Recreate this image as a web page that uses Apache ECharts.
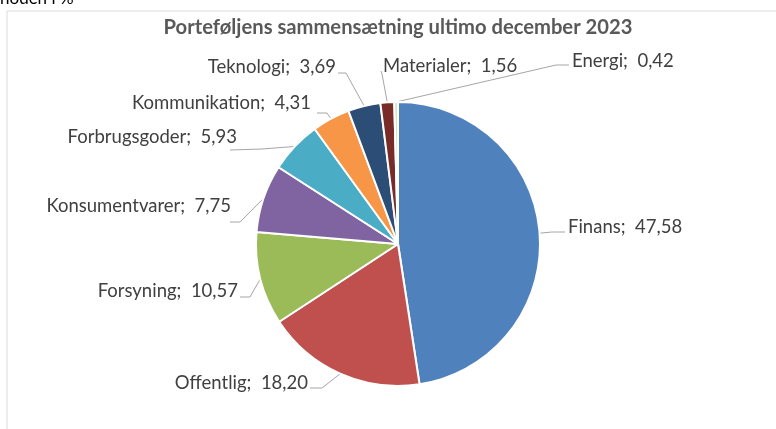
<!DOCTYPE html>
<html>
<head>
<meta charset="utf-8">
<script src="https://cdn.jsdelivr.net/npm/echarts@6/dist/echarts.min.js"></script>
<style>
  html, body { margin: 0; padding: 0; background: #fff; }
  #chart { width: 776px; height: 429px; }
</style>
</head>
<body>
<div id="chart"></div>
<script>
// Sector weights of the portfolio, in percent
const sectors = ['Finans', 'Offentlig', 'Forsyning', 'Konsumentvarer', 'Forbrugsgoder',
                 'Kommunikation', 'Teknologi', 'Materialer', 'Energi'];
const weights = [47.58, 18.20, 10.57, 7.75, 5.93, 4.31, 3.69, 1.56, 0.42];
const sliceColors = ['#4F81BD', '#C0504D', '#9BBB59', '#8064A2', '#4BACC6',
                     '#F79646', '#2C4D75', '#772C2A', '#D7E4BD'];

// Where each label sits: text anchor x, text middle y, alignment,
// plus the elbow and end of its leader line
const labelSpots = [
  { x: 568, y: 227, align: 'left',  elbow: [552, 232], end: [565, 232] },
  { x: 308, y: 383, align: 'right', elbow: [322, 388], end: [310, 388] },
  { x: 238, y: 291, align: 'right', elbow: [250, 297], end: [240, 297] },
  { x: 231, y: 206, align: 'right', elbow: [240, 222], end: [230, 222] },
  { x: 237, y: 137, align: 'right', elbow: [262, 149], end: [230, 150] },
  { x: 311, y: 103, align: 'right', elbow: [327, 113], end: [317, 113] },
  { x: 336, y: 67,  align: 'right', elbow: [346, 73],  end: [338, 73] },
  { x: 383, y: 66,  align: 'left',  elbow: [382, 74],  end: [381, 71] },
  { x: 572, y: 61,  align: 'left',  elbow: [556, 65],  end: [569, 65] }
];

const fmt = v => v.toFixed(2).replace('.', ',');

const chart = echarts.init(document.getElementById('chart'), null, { renderer: 'canvas' });
chart.setOption({
  animation: false,
  backgroundColor: '#ffffff',
  title: {
    text: 'Porteføljens sammensætning ultimo december 2023',
    left: 393,
    top: 12,
    textAlign: 'center',
    textStyle: { fontFamily: 'Lato', fontWeight: 'bold', fontSize: 20.2, color: '#595959' }
  },
  graphic: [
    {
      type: 'rect', z: -10, silent: true,
      shape: { x: 7, y: 11, width: 820, height: 460 },
      style: { fill: '#ffffff', stroke: '#D9D9D9', lineWidth: 1 }
    },
    {
      type: 'text', silent: true, left: 0, top: -10,
      style: { text: 'noden i %', fontFamily: 'Lato', fontSize: 17, fill: '#000000' }
    }
  ],
  series: [{
    type: 'pie',
    center: [398, 244],
    radius: 142,
    startAngle: 90,
    clockwise: true,
    avoidLabelOverlap: false,
    data: sectors.map((name, i) => ({
      name: name,
      value: weights[i],
      itemStyle: { color: sliceColors[i] }
    })),
    itemStyle: { borderColor: '#ffffff', borderWidth: 2 },
    label: {
      show: true,
      position: 'outside',
      formatter: p => p.name + ';  ' + fmt(p.value),
      fontFamily: 'Lato',
      fontSize: 18.5,
      color: '#404040'
    },
    labelLine: {
      show: true,
      length: 5,
      length2: 5,
      smooth: false,
      lineStyle: { color: '#A6A6A6', width: 1 }
    },
    labelLayout: function (params) {
      const s = labelSpots[params.dataIndex];
      const anchor = params.labelLinePoints ? params.labelLinePoints[0] : s.elbow;
      return {
        x: s.x,
        y: s.y,
        align: s.align,
        verticalAlign: 'middle',
        labelLinePoints: [anchor, s.elbow, s.end]
      };
    },
    emphasis: { disabled: true }
  }]
});
</script>
</body>
</html>
